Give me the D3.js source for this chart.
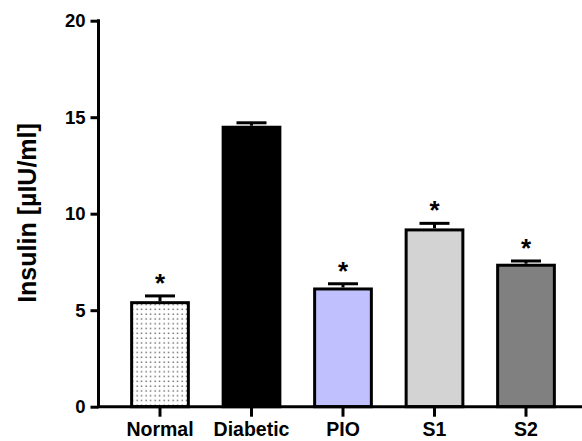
<!DOCTYPE html>
<html>
<head>
<meta charset="utf-8">
<script src="https://cdn.jsdelivr.net/npm/d3@7"></script>
<style>
  body { margin: 0; background: #fff; }
  text { font-family: "Liberation Sans", Arial, sans-serif; font-weight: bold; }
</style>
</head>
<body>
<div id="plot"></div>
<script>
var groups = ['Normal', 'Diabetic', 'PIO', 'S1', 'S2'];
var means = [5.39, 14.48, 6.10, 9.16, 7.33];
var sems = [0.35, 0.23, 0.27, 0.34, 0.22];
var stars = ['*', '', '*', '*', '*'];
var fills = ['url(#dots)', '#000000', '#c0c0ff', '#d3d3d3', '#808080'];
var yTicks = [0, 5, 10, 15, 20];

var w = 582, h = 441;

var svg = d3.select('#plot').append('svg')
    .attr('width', w)
    .attr('height', h);

// dotted fill for the Normal bar
var pat = svg.append('defs').append('pattern')
    .attr('id', 'dots')
    .attr('patternUnits', 'userSpaceOnUse')
    .attr('width', 4.5)
    .attr('height', 4.8);
pat.append('rect').attr('width', 4.5).attr('height', 4.8).attr('fill', '#fff');
pat.append('rect').attr('x', 1.5).attr('y', 1.5).attr('width', 1.3).attr('height', 1.3).attr('fill', '#444');

var y = d3.scaleLinear().domain([0, 20]).range([406.7, 20.7]);
var x = d3.scaleBand()
    .domain(groups)
    .range([114.25, 571.75])
    .paddingInner(0.38)
    .paddingOuter(0.19);

var data = groups.map(function(g, i) {
    return { name: g, mean: means[i], sem: sems[i], star: stars[i], fill: fills[i] };
});

// bars
svg.append('g').selectAll('.bar')
    .data(data)
    .enter()
    .append('rect')
    .attr('class', 'bar')
    .attr('x', function(d) { return x(d.name); })
    .attr('y', function(d) { return y(d.mean); })
    .attr('width', x.bandwidth())
    .attr('height', function(d) { return y(0) - y(d.mean); })
    .style('fill', function(d) { return d.fill; })
    .style('stroke', '#000')
    .style('stroke-width', 3);

// error bars
var err = svg.append('g').selectAll('.err')
    .data(data)
    .enter()
    .append('g')
    .attr('class', 'err');

err.append('line')
    .attr('x1', function(d) { return x(d.name) + x.bandwidth() / 2; })
    .attr('x2', function(d) { return x(d.name) + x.bandwidth() / 2; })
    .attr('y1', function(d) { return y(d.mean) - 1.5; })
    .attr('y2', function(d) { return y(d.mean + d.sem); })
    .style('stroke', '#000')
    .style('stroke-width', 3);

err.append('line')
    .attr('x1', function(d) { return x(d.name) + x.bandwidth() / 2 - 15; })
    .attr('x2', function(d) { return x(d.name) + x.bandwidth() / 2 + 15; })
    .attr('y1', function(d) { return y(d.mean + d.sem); })
    .attr('y2', function(d) { return y(d.mean + d.sem); })
    .style('stroke', '#000')
    .style('stroke-width', 3);

err.append('text')
    .attr('x', function(d) { return x(d.name) + x.bandwidth() / 2; })
    .attr('y', function(d) { return y(d.mean + d.sem) - 4; })
    .attr('text-anchor', 'middle')
    .style('font-size', '26px')
    .text(function(d) { return d.star; });

// y axis
var yAxis = svg.append('g')
    .attr('transform', 'translate(98.5,0)')
    .call(d3.axisLeft(y).tickValues(yTicks).tickSize(8).tickSizeOuter(0).tickPadding(5));
yAxis.select('.domain').style('stroke-width', 3).attr('d', 'M0,' + (y(20) - 1.5) + 'V' + y(0));
yAxis.selectAll('.tick line').style('stroke-width', 3);
yAxis.selectAll('.tick text').style('font-size', '18.5px').style('fill', '#000');

// x axis
var xAxis = svg.append('g')
    .attr('transform', 'translate(0,' + y(0) + ')')
    .call(d3.axisBottom(x).tickSize(10).tickSizeOuter(0));
xAxis.select('.domain').remove();
xAxis.selectAll('.tick line').style('stroke-width', 3);
xAxis.selectAll('.tick text')
    .attr('y', 29.5)
    .attr('dy', null)
    .style('font-size', '19.5px')
    .style('fill', '#000');

svg.append('line')
    .attr('x1', 97)
    .attr('x2', w)
    .attr('y1', y(0))
    .attr('y2', y(0))
    .style('stroke', '#000')
    .style('stroke-width', 3);

// y title
svg.append('text')
    .attr('transform', 'translate(35.5,213) rotate(-90)')
    .attr('text-anchor', 'middle')
    .style('font-size', '25px')
    .text('Insulin [µIU/ml]');
</script>
</body>
</html>
